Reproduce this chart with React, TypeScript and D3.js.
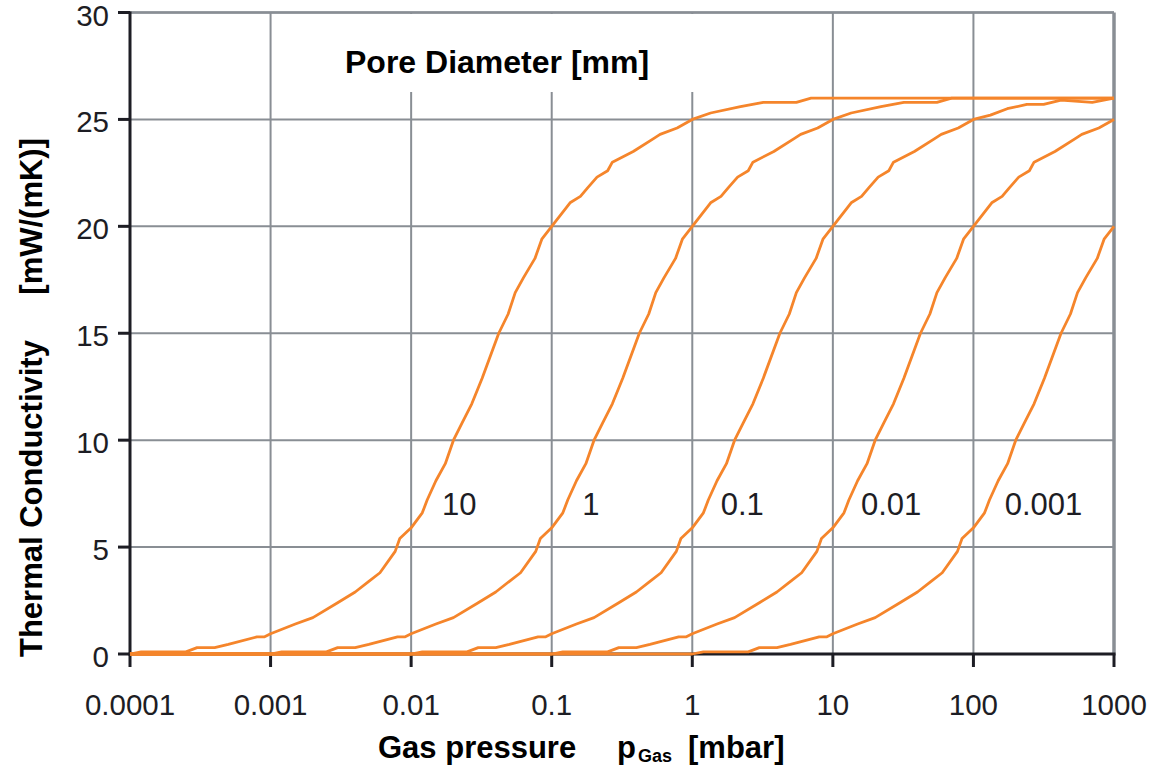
import React from "react";
import * as d3 from "d3";

// pore diameters [mm] and the label shown next to each curve
const poreLabels = ["10", "1", "0.1", "0.01", "0.001"];
// gas pressure [mbar] where each curve label sits
const labelPressure = [0.022, 0.19, 2.27, 26, 315];

// [gas pressure mbar, thermal conductivity mW/(mK)] per pore diameter
const pore10 = [
  [0.0001, 0], [0.00012, 0.1], [0.00025, 0.1], [0.0003, 0.3], [0.0004, 0.3], [0.0005, 0.45],
  [0.0008, 0.8], [0.0009, 0.8], [0.001, 0.95], [0.0015, 1.4], [0.002, 1.7], [0.003, 2.4],
  [0.004, 2.9], [0.005, 3.4], [0.006, 3.8], [0.0077, 4.8], [0.0083, 5.4], [0.01, 5.9],
  [0.012, 6.6], [0.013, 7.2], [0.015, 8.1], [0.0175, 8.9], [0.02, 10], [0.023, 10.8],
  [0.027, 11.7], [0.032, 12.9], [0.042, 15], [0.049, 15.9], [0.055, 16.9], [0.063, 17.6],
  [0.076, 18.5], [0.085, 19.4], [0.1, 20], [0.135, 21.1], [0.16, 21.4], [0.18, 21.8],
  [0.21, 22.3], [0.25, 22.6], [0.27, 23], [0.38, 23.5], [0.53, 24.1], [0.59, 24.3],
  [0.78, 24.6], [1, 25], [1.35, 25.3], [2.2, 25.6], [3.2, 25.8], [5.5, 25.8], [7, 26], [1000, 26],
];
const pore1 = [
  [0.0001, 0], [0.001, 0], [0.0012, 0.1], [0.0025, 0.1], [0.003, 0.3], [0.004, 0.3], [0.005, 0.45],
  [0.008, 0.8], [0.009, 0.8], [0.01, 0.95], [0.015, 1.4], [0.02, 1.7], [0.03, 2.4],
  [0.04, 2.9], [0.05, 3.4], [0.06, 3.8], [0.077, 4.8], [0.083, 5.4], [0.1, 5.9],
  [0.12, 6.6], [0.13, 7.2], [0.15, 8.1], [0.175, 8.9], [0.2, 10], [0.23, 10.8],
  [0.27, 11.7], [0.32, 12.9], [0.42, 15], [0.49, 15.9], [0.55, 16.9], [0.63, 17.6],
  [0.76, 18.5], [0.85, 19.4], [1, 20], [1.35, 21.1], [1.6, 21.4], [1.8, 21.8],
  [2.1, 22.3], [2.5, 22.6], [2.7, 23], [3.8, 23.5], [5.3, 24.1], [5.9, 24.3],
  [7.8, 24.6], [10, 25], [13.5, 25.3], [22, 25.6], [32, 25.8], [55, 25.8], [70, 26], [1000, 26],
];
const pore01 = [
  [0.0001, 0], [0.01, 0], [0.012, 0.1], [0.025, 0.1], [0.03, 0.3], [0.04, 0.3], [0.05, 0.45],
  [0.08, 0.8], [0.09, 0.8], [0.1, 0.95], [0.15, 1.4], [0.2, 1.7], [0.3, 2.4],
  [0.4, 2.9], [0.5, 3.4], [0.6, 3.8], [0.77, 4.8], [0.83, 5.4], [1, 5.9],
  [1.2, 6.6], [1.3, 7.2], [1.5, 8.1], [1.75, 8.9], [2, 10], [2.3, 10.8],
  [2.7, 11.7], [3.2, 12.9], [4.2, 15], [4.9, 15.9], [5.5, 16.9], [6.3, 17.6],
  [7.6, 18.5], [8.5, 19.4], [10, 20], [13.5, 21.1], [16, 21.4], [18, 21.8],
  [21, 22.3], [25, 22.6], [27, 23], [38, 23.5], [53, 24.1], [59, 24.3],
  [78, 24.6], [100, 25], [132, 25.2], [174, 25.5], [240, 25.7], [316, 25.7], [420, 25.9],
  [700, 25.8], [1000, 26],
];
const pore001 = [
  [0.0001, 0], [0.1, 0], [0.12, 0.1], [0.25, 0.1], [0.3, 0.3], [0.4, 0.3], [0.5, 0.45],
  [0.8, 0.8], [0.9, 0.8], [1, 0.95], [1.5, 1.4], [2, 1.7], [3, 2.4],
  [4, 2.9], [5, 3.4], [6, 3.8], [7.7, 4.8], [8.3, 5.4], [10, 5.9],
  [12, 6.6], [13, 7.2], [15, 8.1], [17.5, 8.9], [20, 10], [23, 10.8],
  [27, 11.7], [32, 12.9], [42, 15], [49, 15.9], [55, 16.9], [63, 17.6],
  [76, 18.5], [85, 19.4], [100, 20], [135, 21.1], [160, 21.4], [180, 21.8],
  [210, 22.3], [250, 22.6], [270, 23], [380, 23.5], [530, 24.1], [590, 24.3],
  [780, 24.6], [1000, 25],
];
const pore0001 = [
  [0.0001, 0], [1, 0], [1.2, 0.1], [2.5, 0.1], [3, 0.3], [4, 0.3], [5, 0.45],
  [8, 0.8], [9, 0.8], [10, 0.95], [15, 1.4], [20, 1.7], [30, 2.4],
  [40, 2.9], [50, 3.4], [60, 3.8], [77, 4.8], [83, 5.4], [100, 5.9],
  [120, 6.6], [130, 7.2], [150, 8.1], [175, 8.9], [200, 10], [230, 10.8],
  [270, 11.7], [320, 12.9], [420, 15], [490, 15.9], [550, 16.9], [630, 17.6],
  [760, 18.5], [850, 19.4], [1000, 20],
];
const curves = [pore10, pore1, pore01, pore001, pore0001];

const xTicks = [0.0001, 0.001, 0.01, 0.1, 1, 10, 100, 1000];
const xTickLabels = ["0.0001", "0.001", "0.01", "0.1", "1", "10", "100", "1000"];
const yTicks = [0, 5, 10, 15, 20, 25, 30];

const FONT = "'Liberation Sans', Arial, Helvetica, sans-serif";
const ORANGE = "#f5852b";
const GRID = "#898e94";
const INK = "#1d1d24";

export default function App() {
  const width = 1153;
  const height = 769;
  const margin = { top: 12.5, right: 39, bottom: 115, left: 130 };

  const x = d3
    .scaleLog()
    .domain([0.0001, 1000])
    .range([margin.left, width - margin.right]);
  const y = d3
    .scaleLinear()
    .domain([0, 30])
    .range([height - margin.bottom, margin.top]);

  const line = d3
    .line<number[]>()
    .x((d) => x(d[0]))
    .y((d) => y(d[1]));

  const x0 = x(0.0001);
  const x1 = x(1000);
  const yBase = y(0);
  const yTop = y(30);

  return (
    <svg
      width={width}
      height={height}
      style={{ position: "absolute", left: 0, top: 0, background: "#fff" }}
      fontFamily={FONT}
    >
      {/* grid */}
      {yTicks.slice(1).map((t) => (
        <line key={"gy" + t} x1={x0} x2={x1} y1={y(t)} y2={y(t)} stroke={GRID} strokeWidth={2} />
      ))}
      {xTicks.slice(1, -1).map((t) => (
        <line key={"gx" + t} x1={x(t)} x2={x(t)} y1={yTop} y2={yBase} stroke={GRID} strokeWidth={2} />
      ))}
      <line x1={x1} x2={x1} y1={yTop} y2={yBase} stroke={GRID} strokeWidth={3.5} />

      {/* white box behind the curve-family title */}
      <rect x={330} y={yTop + 1.5} width={376} height={78} fill="#fff" />
      <line x1={x0} x2={x1} y1={yTop} y2={yTop} stroke={GRID} strokeWidth={2.5} />
      <text x={345} y={73} fontSize={32} fontWeight="bold" fill="#000">
        Pore Diameter [mm]
      </text>

      {/* axes */}
      <line x1={x0} x2={x0} y1={yTop - 1} y2={yBase + 1.5} stroke={INK} strokeWidth={3} />
      <line x1={x0 - 1.5} x2={x1 + 1.5} y1={yBase} y2={yBase} stroke={INK} strokeWidth={3} />
      {yTicks.map((t) => (
        <g key={"ty" + t}>
          <line x1={x0 - 12} x2={x0} y1={y(t)} y2={y(t)} stroke={INK} strokeWidth={3} />
          <text x={109} y={y(t) + 13} fontSize={29.5} textAnchor="end" fill={INK}>
            {t}
          </text>
        </g>
      ))}
      {xTicks.map((t, i) => (
        <g key={"tx" + t}>
          <line x1={x(t)} x2={x(t)} y1={yBase} y2={yBase + 13} stroke={INK} strokeWidth={3} />
          <text x={x(t)} y={715} fontSize={29.5} textAnchor="middle" fill={INK}>
            {xTickLabels[i]}
          </text>
        </g>
      ))}

      {/* curves */}
      {curves.map((c, i) => (
        <path
          key={"c" + i}
          d={line(c) || ""}
          fill="none"
          stroke={ORANGE}
          strokeWidth={2.8}
          strokeLinejoin="round"
        />
      ))}

      {/* curve labels */}
      {poreLabels.map((l, i) => (
        <text
          key={"l" + l}
          x={x(labelPressure[i])}
          y={515}
          fontSize={31}
          textAnchor="middle"
          fill={INK}
        >
          {l}
        </text>
      ))}

      {/* axis titles */}
      <text x={378} y={758} fontSize={31} fontWeight="bold" fill="#000">
        Gas pressure
      </text>
      <text x={617} y={758} fontSize={31} fontWeight="bold" fill="#000">
        p
      </text>
      <text x={638} y={762} fontSize={18} fontWeight="bold" fill="#000">
        Gas
      </text>
      <text x={688} y={758} fontSize={31} fontWeight="bold" fill="#000">
        [mbar]
      </text>

      <text
        transform="translate(42,657) rotate(-90)"
        fontSize={31}
        fontWeight="bold"
        fill="#000"
        textAnchor="start"
      >
        Thermal Conductivity
      </text>
      <text
        transform="translate(42,138) rotate(-90)"
        fontSize={31}
        fontWeight="bold"
        fill="#000"
        textAnchor="end"
      >
        [mW/(mK)]
      </text>
    </svg>
  );
}
